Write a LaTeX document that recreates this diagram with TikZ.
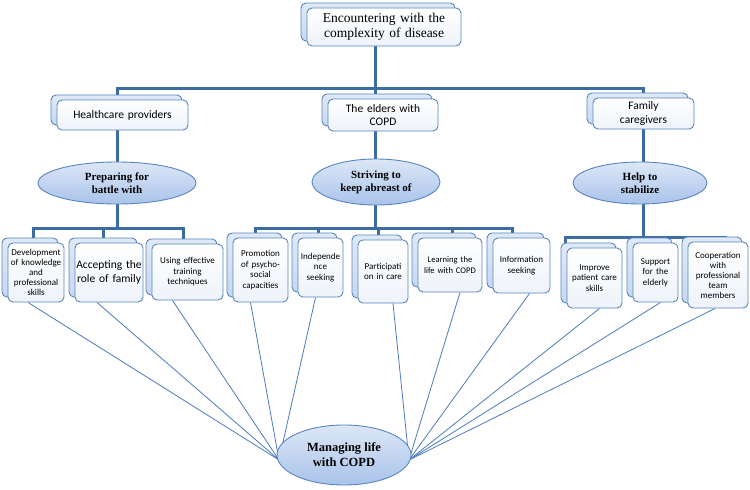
\documentclass[tikz,border=0pt]{standalone}
\usepackage{fontspec}
\setmainfont{Liberation Serif}
\newfontfamily\boxfont{Carlito}
\usetikzlibrary{shapes.geometric}
\definecolor{lineblue}{HTML}{3D6CA5}
\definecolor{thinblue}{HTML}{4C7BBF}
\definecolor{boxedge}{HTML}{5A86C0}
\definecolor{backfill}{HTML}{C6D8F0}
\definecolor{fronttint}{HTML}{EEF3FA}
\definecolor{elltop}{HTML}{DCE7F7}
\definecolor{ellbot}{HTML}{A9C3EA}
\pgfdeclarelayer{bg}
\pgfsetlayers{bg,main}
\tikzset{
  frontbox/.style={draw=boxedge, line width=0.9pt, rounded corners=5pt,
    top color=white, bottom color=fronttint, inner sep=1pt, align=center},
  backbox/.style={draw=boxedge, line width=0.9pt, rounded corners=5pt,
    top color=backfill!55, bottom color=backfill, inner sep=0pt},
  conn/.style={draw=lineblue, line width=3pt},
  spoke/.style={draw=thinblue, line width=0.8pt},
  ovalnode/.style={ellipse, draw=boxedge, line width=0.9pt, top color=elltop,
    bottom color=ellbot, inner sep=0pt, align=center},
}
\newcommand\stackbox[7]{%
  \pgfmathsetmacro\sbw{#4-#2}\pgfmathsetmacro\sbh{#5-#3}%
  \pgfmathsetmacro\sbx{(#2+#4)/2}\pgfmathsetmacro\sby{(#3+#5)/2}%
  \pgfmathsetmacro\sbt{#4-#2-2}%
  \node[backbox, minimum width=\sbw pt, minimum height=\sbh pt] (#1b) at (\sbx-6,\sby-5) {};
  \node[frontbox, minimum width=\sbw pt, minimum height=\sbh pt, text width=\sbt pt, font=#6] (#1) at (\sbx,\sby) {#7};
}
\begin{document}
\begin{tikzpicture}[x=1pt,y=-1pt]
\useasboundingbox (0,0) rectangle (750,490);

% top level
\stackbox{top}{307}{8}{461}{46}{\fontsize{13.5}{15}\selectfont\rmfamily}{Encountering with the\\complexity of disease}
\stackbox{hc}{57}{100}{188}{130}{\fontsize{11.5}{13.5}\selectfont\boxfont}{Healthcare providers}
\stackbox{el}{328}{99}{438}{131}{\fontsize{11.5}{13.5}\selectfont\boxfont}{The elders with\\COPD}
\stackbox{fc}{593}{98}{694}{129}{\fontsize{11.5}{13.5}\selectfont\boxfont}{Family\\caregivers}

% ellipses
\node[ovalnode, minimum width=158pt, minimum height=42pt, font=\fontsize{11}{13}\selectfont\bfseries] (e1) at (117,183) {Preparing for\\battle with};
\node[ovalnode, minimum width=128pt, minimum height=46pt, font=\fontsize{11}{13}\selectfont\bfseries] (e2) at (376,182) {Striving to\\keep abreast of};
\node[ovalnode, minimum width=134pt, minimum height=42pt, font=\fontsize{11}{13}\selectfont\bfseries] (e3) at (640,183) {Help to\\stabilize};
\node[ovalnode, minimum width=134pt, minimum height=60pt, font=\fontsize{12.5}{15}\selectfont\bfseries] (e4) at (344,455) {Managing life\\with COPD};

% left group
\stackbox{b1}{8}{243}{64}{302}{\fontsize{9}{10}\selectfont\boxfont}{Development\\of knowledge\\and\\professional\\skills}
\stackbox{b2}{75}{243}{143}{302}{\fontsize{11.5}{13.5}\selectfont\boxfont}{Accepting the\\role of family}
\stackbox{b3}{152}{244}{223}{300}{\fontsize{9}{10.5}\selectfont\boxfont}{Using effective\\training\\techniques}

% middle group
\stackbox{m1}{233}{238}{288}{302}{\fontsize{9}{10.5}\selectfont\boxfont}{Promotion\\of psycho-\\social\\capacities}
\stackbox{m2}{298}{238}{343}{297}{\fontsize{9}{10.5}\selectfont\boxfont}{Independe\\nce\\seeking}
\stackbox{m3}{358}{240}{408}{303}{\fontsize{9}{10.5}\selectfont\boxfont}{Participati\\on in care}
\stackbox{m4}{418}{238}{482}{292}{\fontsize{8.6}{10.5}\selectfont\boxfont}{Learning the\\life with COPD}
\stackbox{m5}{493}{238}{550}{293}{\fontsize{9}{10.5}\selectfont\boxfont}{Information\\seeking}

% right group
\stackbox{r1}{567}{248}{622}{308}{\fontsize{9}{10.5}\selectfont\boxfont}{Improve\\patient care\\skills}
\stackbox{r2}{633}{243}{678}{302}{\fontsize{9}{10.5}\selectfont\boxfont}{Support\\for the\\elderly}
\stackbox{r3}{688}{242}{748}{308}{\fontsize{9}{10}\selectfont\boxfont}{Cooperation\\with\\professional\\team\\members}

% junction coordinates
\coordinate (jT) at (375,88);
\coordinate (jL) at (117,88);
\coordinate (jR) at (643,88);
\coordinate (aL) at (33,228);
\coordinate (aM) at (103,228);
\coordinate (aR) at (183,228);
\coordinate (cL) at (255,228);
\coordinate (c2) at (318,228);
\coordinate (c3) at (378,228);
\coordinate (c4) at (452,228);
\coordinate (cR) at (512,228);
\coordinate (dL) at (565,237);
\coordinate (dM) at (643,237);
\coordinate (dR) at (725,237);
\coordinate (L) at (279,460);
\coordinate (R) at (409,460);

\begin{pgfonlayer}{bg}
  \fill[white] (0,0) rectangle (750,490);
  % tree connectors
  \draw[conn] (top.south -| jT) -- (el.north -| jT);
  \draw[conn] (hc.north -| jL) |- (jR) -- (fc.north -| jR);
  \draw[conn] (hc.south -| jL) -- (e1.north -| jL);
  \draw[conn] (el.south -| jT) -- (e2.north -| jT);
  \draw[conn] (fc.south -| jR) -- (e3.north -| jR);
  % left bar
  \draw[conn] (e1.south) -- (e1.south |- aL);
  \draw[conn] (b1.north -| aL) |- (aR) -- (b3.north -| aR);
  \draw[conn] (aM) -- (b2.north -| aM);
  % middle bar
  \draw[conn] (e2.south -| jT) -- (jT |- cL);
  \draw[conn] (m1.north -| cL) |- (cR) -- (m5.north -| cR);
  \draw[conn] (c2) -- (m2.north -| c2);
  \draw[conn] (c3) -- (m3.north -| c3);
  \draw[conn] (c4) -- (m4.north -| c4);
  % right bar
  \draw[conn] (e3.south -| dM) -- (r2.north -| dM);
  \draw[conn] (r1.north -| dL) |- (dR) -- (r3.north -| dR);
  % spokes to the bottom ellipse
  \draw[spoke] ([xshift=-8pt]b1.south) -- (L);
  \draw[spoke] ([xshift=-12pt]b2.south) -- (L);
  \draw[spoke] ([xshift=-15pt]b3.south) -- (L);
  \draw[spoke] ([xshift=-10pt]m1.south) -- (L);
  \draw[spoke] ([xshift=-5pt]m2.south) -- (L);
  \draw[spoke] ([xshift=10pt]m3.south) -- (R);
  \draw[spoke] ([xshift=10pt]m4.south) -- (R);
  \draw[spoke] ([xshift=8pt]m5.south) -- (R);
  \draw[spoke] ([xshift=5pt]r1.south) -- (R);
  \draw[spoke] ([xshift=5pt]r2.south) -- (R);
  \draw[spoke] ([xshift=-3pt]r3.south) -- (R);
\end{pgfonlayer}
\end{tikzpicture}
\end{document}
